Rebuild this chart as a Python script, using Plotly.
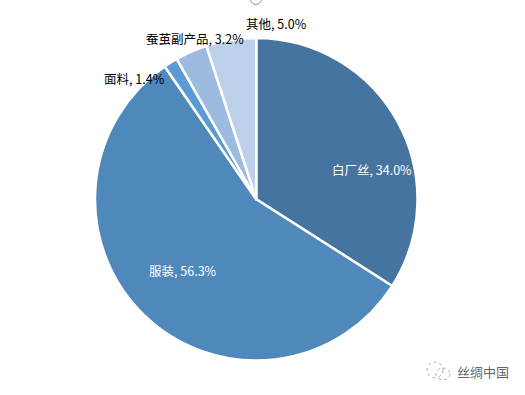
import plotly.graph_objects as go

categories = ["白厂丝", "服装", "面料", "蚕茧副产品", "其他"]
values = [34.0, 56.3, 1.4, 3.2, 5.0]
colors = ["#44749F", "#4F88BB", "#5B9BD5", "#9DBBE0", "#BDD0EA"]
label_colors = ["white", "white", "black", "black", "black"]
label_px = [(372, 169.5), (183, 270), (134, 79), (195, 39), (276, 24)]
W, H = 525, 395
FONT = "Noto Sans CJK SC, Liberation Sans, sans-serif"

fig = go.Figure(go.Pie(
    labels=categories,
    values=values,
    sort=False,
    direction="clockwise",
    rotation=0,
    textinfo="none",
    hoverinfo="label+percent",
    marker=dict(colors=colors, line=dict(color="white", width=2.5)),
    domain=dict(x=[95 / W, 417.5 / W], y=[1 - 360.5 / H, 1 - 38 / H]),
    showlegend=False,
))

annotations = []
for name, v, c, (px, py) in zip(categories, values, label_colors, label_px):
    annotations.append(dict(
        x=px / W, y=1 - py / H, xref="paper", yref="paper",
        text=f"{name}, {v:.1f}%", showarrow=False,
        font=dict(size=12.5, color=c, family=FONT),
        xanchor="center", yanchor="middle",
    ))
annotations.append(dict(
    x=483 / W, y=1 - 371 / H, xref="paper", yref="paper",
    text="丝绸中国", showarrow=False,
    font=dict(size=13, color="#666666", family=FONT),
    xanchor="center", yanchor="middle",
))

def circle(x0, y0, x1, y1, color, width=1, dash="solid"):
    return dict(type="circle", xref="paper", yref="paper",
                x0=x0 / W, x1=x1 / W, y0=1 - y1 / H, y1=1 - y0 / H,
                line=dict(color=color, width=width, dash=dash),
                fillcolor="rgba(0,0,0,0)")

shapes = [
    circle(250.5, -6, 261.5, 4.5, "#9a9a9a"),
    circle(427, 362, 443, 378, "#aaaaaa", dash="dot"),
    circle(436, 368, 450, 380, "#aaaaaa", dash="dot"),
]

fig.update_layout(
    width=W, height=H, autosize=False,
    margin=dict(l=0, r=0, t=0, b=0),
    paper_bgcolor="white", plot_bgcolor="white",
    annotations=annotations, shapes=shapes,
    font=dict(family=FONT),
)
fig.write_html(
    "out.html",
    config=dict(displayModeBar=False),
    post_script="document.body.style.margin='0';document.body.style.overflow='hidden';",
)
